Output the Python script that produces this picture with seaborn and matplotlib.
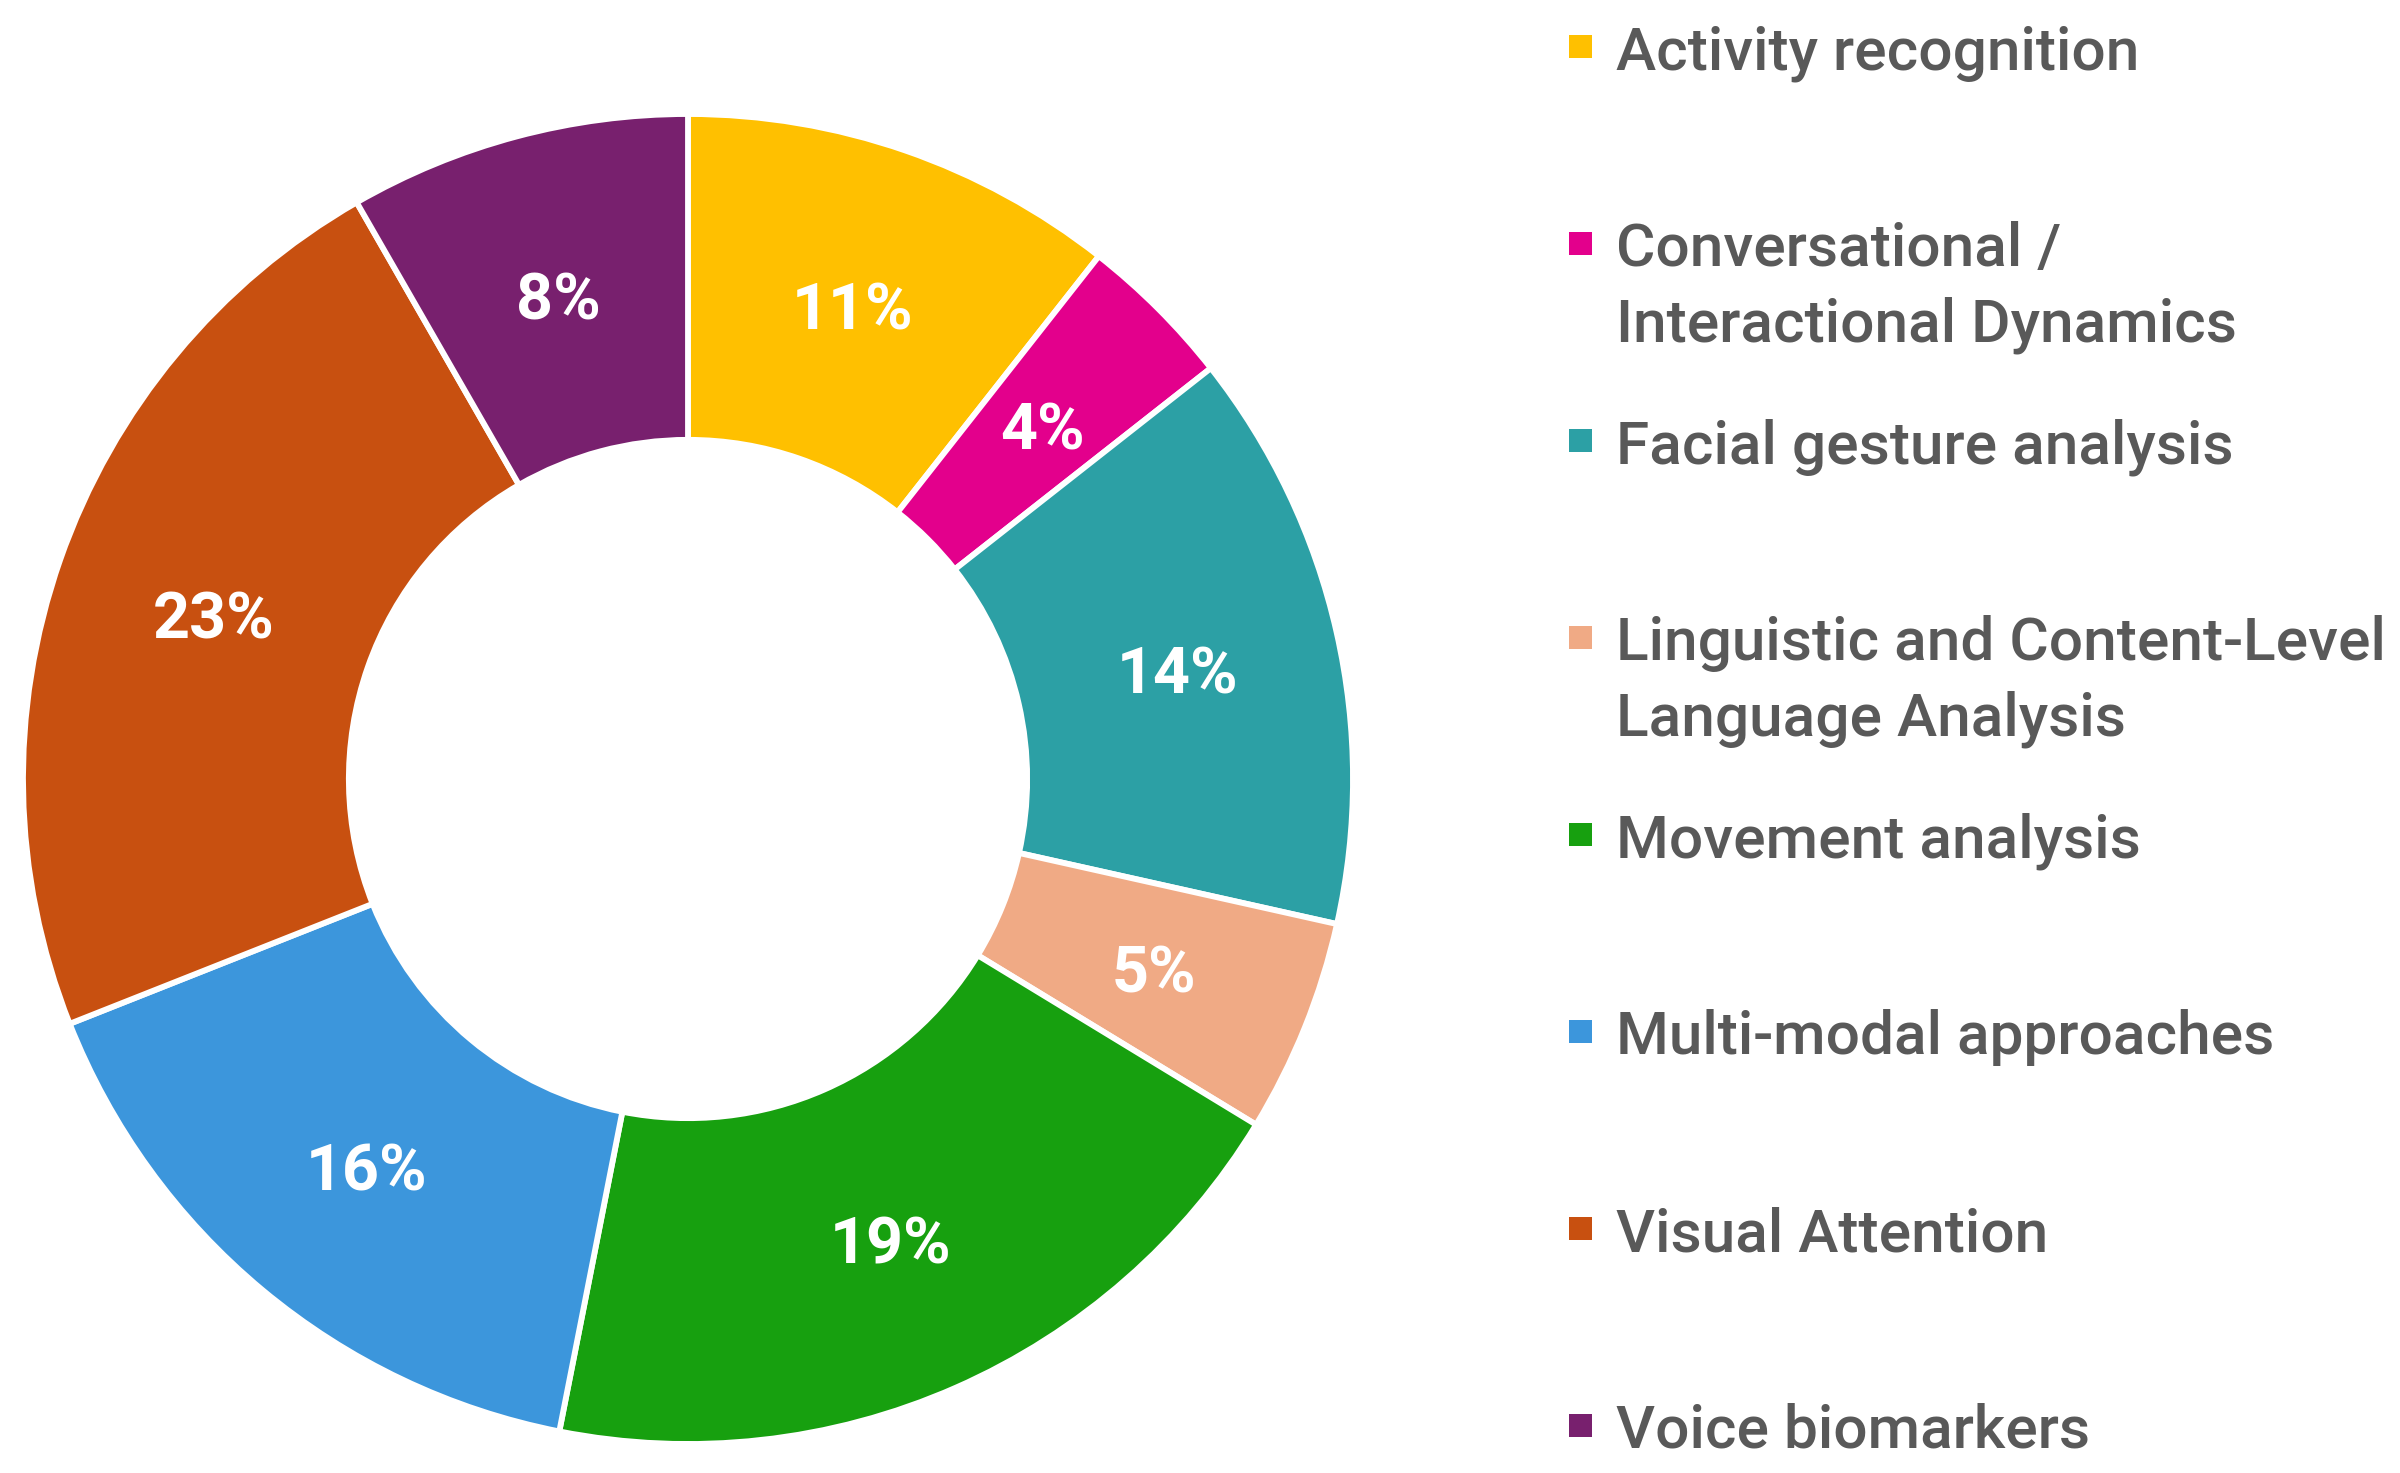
import numpy as np
import matplotlib
matplotlib.use("Agg")
import matplotlib.pyplot as plt
import seaborn as sns
from matplotlib.patches import Rectangle

# shares (percent of the ring)
categories = [
    "Activity recognition",
    "Conversational /\nInteractional Dynamics",
    "Facial gesture analysis",
    "Linguistic and Content-Level\nLanguage Analysis",
    "Movement analysis",
    "Multi-modal approaches",
    "Visual Attention",
    "Voice biomarkers",
]
shares = [10.6, 3.8, 14.1, 5.2, 19.4, 15.9, 22.7, 8.3]
colors = ["#FFC000", "#E3008C", "#2CA0A5", "#F0AA85",
          "#17A00F", "#3C96DC", "#C85010", "#78206E"]

sns.set_theme(style="white")
plt.rcParams["font.family"] = ["Roboto", "DejaVu Sans"]

W, H, DPI = 2400, 1473, 150
fig = plt.figure(figsize=(W / DPI, H / DPI), dpi=DPI)

# donut: centre (688, 779) px, outer radius 665 px
cx, cy, r = 688, 779, 665
ax = fig.add_axes([(cx - r) / W, (H - cy - r) / H, 2 * r / W, 2 * r / H])
wedges, _, autotexts = ax.pie(
    shares, colors=colors, startangle=90, counterclock=False,
    autopct="%.0f%%", pctdistance=0.755,
    wedgeprops=dict(width=0.49, edgecolor="white", linewidth=2.8),
    textprops=dict(color="white", fontsize=31, fontweight="bold"),
)
# labels sit a touch lower in the original
for t in autotexts:
    x, y = t.get_position()
    t.set_position((x, y - 0.012))
ax.set_xlim(-1, 1)
ax.set_ylim(-1, 1)
ax.set_aspect("equal")

# legend drawn by hand in pixel coordinates
lax = fig.add_axes([0, 0, 1, 1])
lax.set_xlim(0, W)
lax.set_ylim(H, 0)
lax.axis("off")

row0, step, line_gap = 46, 197, 76
for i, (lab, col) in enumerate(zip(categories, colors)):
    y = row0 + i * step
    lax.add_patch(Rectangle((1569, y - 11.5), 23, 23, color=col, lw=0))
    for k, line in enumerate(lab.split("\n")):
        lax.text(1616, y + 23 + k * line_gap, line, fontsize=29,
                 fontweight="medium", color="#595959", va="baseline", ha="left")

fig.savefig("out.png", dpi=DPI, facecolor="white")
plt.close(fig)
